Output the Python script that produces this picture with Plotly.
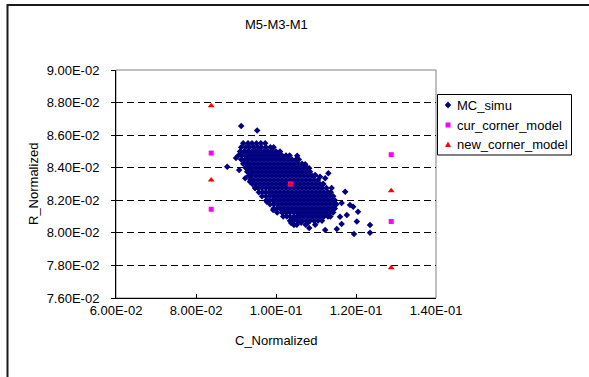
import plotly.graph_objects as go

# ---------------- data ----------------
title_text = "M5-M3-M1"
x_title = "C_Normalized"
y_title = "R_Normalized"
series_names = ["MC_simu", "cur_corner_model", "new_corner_model"]

x_tickvals = [0.06, 0.08, 0.10, 0.12, 0.14]
x_ticktext = ["6.00E-02", "8.00E-02", "1.00E-01", "1.20E-01", "1.40E-01"]
y_tickvals = [0.076, 0.078, 0.080, 0.082, 0.084, 0.086, 0.088, 0.090]
y_ticktext = ["7.60E-02", "7.80E-02", "8.00E-02", "8.20E-02", "8.40E-02",
              "8.60E-02", "8.80E-02", "9.00E-02"]

# Monte-Carlo cloud, read row by row (R value of the row, C values in the row)
mc_row_y = [0.0855, 0.08525, 0.0850, 0.08475, 0.0845, 0.08425, 0.0840, 0.08375,
            0.0835, 0.08325, 0.0830, 0.08275, 0.0825, 0.08225, 0.0820, 0.08175,
            0.0815, 0.08125, 0.0810, 0.08075, 0.0805]
mc_row_x = [
    [0.0918, 0.0930, 0.0940, 0.0951, 0.0962, 0.0973],
    [0.0913, 0.0924, 0.0934, 0.0945, 0.0955, 0.0964, 0.0975, 0.0986, 0.0994],
    [0.0910, 0.0920, 0.0930, 0.0940, 0.0950, 0.0960, 0.0970, 0.0980, 0.0990, 0.1000, 0.1010],
    [0.0906, 0.0915, 0.0925, 0.0935, 0.0945, 0.0955, 0.0965, 0.0975, 0.0985, 0.0995, 0.1005,
     0.1015, 0.1025, 0.1034],
    [0.0913, 0.0922, 0.0930, 0.0940, 0.0950, 0.0960, 0.0970, 0.0980, 0.0990, 0.1000, 0.1010,
     0.1020, 0.1030, 0.1040, 0.1050, 0.1057],
    [0.0918, 0.0927, 0.0935, 0.0945, 0.0955, 0.0965, 0.0975, 0.0985, 0.0995, 0.1005, 0.1015,
     0.1025, 0.1035, 0.1045, 0.1055, 0.1065],
    [0.0924, 0.0932, 0.0940, 0.0950, 0.0960, 0.0970, 0.0980, 0.0990, 0.1000, 0.1010, 0.1020,
     0.1030, 0.1040, 0.1050, 0.1060, 0.1070, 0.1078],
    [0.0928, 0.0937, 0.0945, 0.0955, 0.0965, 0.0975, 0.0985, 0.0995, 0.1005, 0.1015, 0.1025,
     0.1035, 0.1045, 0.1055, 0.1065, 0.1075, 0.1085],
    [0.0932, 0.0940, 0.0950, 0.0960, 0.0970, 0.0980, 0.0990, 0.1000, 0.1010, 0.1020, 0.1030,
     0.1040, 0.1050, 0.1060, 0.1070, 0.1080, 0.1090, 0.1097],
    [0.0936, 0.0945, 0.0955, 0.0965, 0.0975, 0.0985, 0.0995, 0.1005, 0.1015, 0.1025, 0.1035,
     0.1045, 0.1055, 0.1065, 0.1075, 0.1085, 0.1095, 0.1105],
    [0.0941, 0.0950, 0.0960, 0.0970, 0.0980, 0.0990, 0.1000, 0.1010, 0.1020, 0.1030, 0.1040,
     0.1050, 0.1060, 0.1070, 0.1080, 0.1090, 0.1100, 0.1110, 0.1118],
    [0.0948, 0.0956, 0.0965, 0.0975, 0.0985, 0.0995, 0.1005, 0.1015, 0.1025, 0.1035, 0.1045,
     0.1055, 0.1065, 0.1075, 0.1085, 0.1095, 0.1105, 0.1115, 0.1126],
    [0.0957, 0.0966, 0.0974, 0.0982, 0.0990, 0.1000, 0.1010, 0.1020, 0.1030, 0.1040, 0.1050,
     0.1060, 0.1070, 0.1080, 0.1090, 0.1100, 0.1110, 0.1120, 0.1130, 0.1137],
    [0.0965, 0.0975, 0.0985, 0.0995, 0.1005, 0.1015, 0.1025, 0.1035, 0.1045, 0.1055, 0.1065,
     0.1075, 0.1085, 0.1095, 0.1105, 0.1115, 0.1125, 0.1135, 0.1143],
    [0.0976, 0.0984, 0.0992, 0.1000, 0.1010, 0.1020, 0.1030, 0.1040, 0.1050, 0.1060, 0.1070,
     0.1080, 0.1090, 0.1100, 0.1110, 0.1120, 0.1130, 0.1140, 0.1147],
    [0.0985, 0.0995, 0.1005, 0.1015, 0.1025, 0.1035, 0.1045, 0.1055, 0.1065, 0.1075, 0.1085,
     0.1095, 0.1105, 0.1115, 0.1125, 0.1135, 0.1145, 0.1151],
    [0.0994, 0.1002, 0.1010, 0.1020, 0.1030, 0.1040, 0.1050, 0.1060, 0.1070, 0.1080, 0.1090,
     0.1100, 0.1110, 0.1120, 0.1130, 0.1140, 0.1147],
    [0.1003, 0.1015, 0.1025, 0.1035, 0.1045, 0.1055, 0.1065, 0.1075, 0.1085, 0.1095, 0.1105,
     0.1115, 0.1125, 0.1135, 0.1143],
    [0.1018, 0.1027, 0.1035, 0.1044, 0.1052, 0.1060, 0.1070, 0.1080, 0.1090, 0.1100, 0.1110,
     0.1120, 0.1130, 0.1136],
    [0.1035, 0.1045, 0.1055, 0.1065, 0.1075, 0.1085, 0.1095, 0.1105, 0.1115],
    [0.1052, 0.1074, 0.1098],
]
# scattered Monte-Carlo points outside the dense core
mc_out_x = [0.0913, 0.0953, 0.0878, 0.0900, 0.0923, 0.0908, 0.0935, 0.0948, 0.0977, 0.0993,
            0.1038, 0.1053, 0.1073, 0.1083, 0.1098, 0.1110, 0.1131, 0.1123, 0.1118, 0.1139,
            0.1173, 0.1164, 0.1185, 0.1193, 0.1205, 0.1177, 0.1160, 0.1202, 0.1235, 0.1235,
            0.1195, 0.1164, 0.1152, 0.1123, 0.1083, 0.1080, 0.1063, 0.1045, 0.1043]
mc_out_y = [0.08656, 0.08629, 0.08406, 0.08460, 0.08335, 0.08386, 0.08314, 0.08275, 0.08191,
            0.08140, 0.08061, 0.08474, 0.08421, 0.08396, 0.08355, 0.08345, 0.08366, 0.08335,
            0.08300, 0.08275, 0.08253, 0.08183, 0.08171, 0.08161, 0.08130, 0.08110, 0.08099,
            0.08069, 0.08048, 0.08001, 0.07993, 0.08054, 0.08024, 0.08018, 0.08030, 0.08062,
            0.08062, 0.08048, 0.08085]

cur_x = [0.0838, 0.0838, 0.1036, 0.1288, 0.1288]
cur_y = [0.0849, 0.08145, 0.0830, 0.0848, 0.0807]
new_x = [0.0838, 0.0838, 0.1036, 0.1288, 0.1288]
new_y = [0.0878, 0.08325, 0.0830, 0.08259, 0.07786]

# ---------------- figure ----------------
FONT = "Liberation Sans, Arial, sans-serif"
W, H = 589, 377
L, R, T, B = 116, 153, 70, 79
PW, PH = W - L - R, H - T - B


def px(p):
    return (p - L) / PW


def py(p):
    return (H - B - p) / PH


mc_x = [v for row in mc_row_x for v in row] + mc_out_x
mc_y = [y for y, row in zip(mc_row_y, mc_row_x) for _ in row] + mc_out_y

fig = go.Figure()
fig.add_trace(go.Scatter(x=mc_x, y=mc_y, mode="markers", name=series_names[0],
                         marker=dict(symbol="diamond", size=5, color="#000080",
                                     line=dict(width=0))))
fig.add_trace(go.Scatter(x=cur_x, y=cur_y, mode="markers", name=series_names[1],
                         marker=dict(symbol="square", size=5, color="#FF00FF",
                                     line=dict(width=0))))
fig.add_trace(go.Scatter(x=new_x, y=new_y, mode="markers", name=series_names[2],
                         marker=dict(symbol="triangle-up", size=6, color="#FF0000",
                                     line=dict(width=0))))

shapes = [
    # outer chart frame
    dict(type="rect", xref="paper", yref="paper", x0=px(7.5), x1=px(620), y0=py(400), y1=py(5),
         line=dict(color="#1a1a1a", width=2), layer="below"),
    # plot-area border
    dict(type="rect", xref="paper", yref="paper", x0=0, x1=1, y0=0, y1=1,
         line=dict(color="#808080", width=1), layer="below"),
    # legend box
    dict(type="rect", xref="paper", yref="paper", x0=px(437.5), x1=px(571.5),
         y0=py(155), y1=py(94.5), line=dict(color="black", width=1), fillcolor="white"),
    # legend symbols
    dict(type="path", xref="paper", yref="paper",
         path=f"M {px(448)},{py(101.5)} L {px(451.2)},{py(105)} L {px(448)},{py(108.5)} "
              f"L {px(444.8)},{py(105)} Z",
         fillcolor="#000080", line=dict(width=0)),
    dict(type="rect", xref="paper", yref="paper", x0=px(445.5), x1=px(450.5),
         y0=py(127.5), y1=py(122.5), fillcolor="#FF00FF", line=dict(width=0)),
    dict(type="path", xref="paper", yref="paper",
         path=f"M {px(445)},{py(147)} L {px(451)},{py(147)} L {px(448)},{py(141.5)} Z",
         fillcolor="#FF0000", line=dict(width=0)),
]

annotations = [
    dict(text=title_text, xref="paper", yref="paper", x=0.5, y=py(25), showarrow=False,
         xanchor="center", yanchor="middle", font=dict(size=13, family=FONT, color="black")),
    dict(text=x_title, xref="paper", yref="paper", x=0.5, y=py(340), showarrow=False,
         xanchor="center", yanchor="middle", font=dict(size=13, family=FONT, color="black")),
    dict(text=y_title, xref="paper", yref="paper", x=px(33), y=py(184), showarrow=False,
         textangle=-90, xanchor="center", yanchor="middle",
         font=dict(size=13, family=FONT, color="black")),
]
for name, yy in zip(series_names, [105, 125, 144]):
    annotations.append(dict(text=name, xref="paper", yref="paper", x=px(455), y=py(yy),
                            showarrow=False, xanchor="left", yanchor="middle",
                            font=dict(size=13, family=FONT, color="black")))

fig.update_layout(
    width=W, height=H,
    margin=dict(l=L, r=R, t=T, b=B, pad=0),
    paper_bgcolor="white", plot_bgcolor="white",
    showlegend=False,
    font=dict(family=FONT, size=13, color="black"),
    shapes=shapes, annotations=annotations,
    xaxis=dict(range=[0.06, 0.14], tickvals=x_tickvals, ticktext=x_ticktext,
               showgrid=False, zeroline=False, showline=True, linecolor="black", linewidth=1,
               ticks="inside", ticklen=4, tickcolor="black",
               tickfont=dict(size=13, family=FONT, color="black")),
    yaxis=dict(range=[0.076, 0.090], tickvals=y_tickvals, ticktext=y_ticktext,
               showgrid=True, gridcolor="black", gridwidth=1, griddash="7px,4px",
               zeroline=False, showline=True, linecolor="black", linewidth=1,
               ticks="outside", ticklen=4, tickcolor="black", ticklabelstandoff=9,
               tickfont=dict(size=13, family=FONT, color="black")),
)

fig.write_html("out.html")
